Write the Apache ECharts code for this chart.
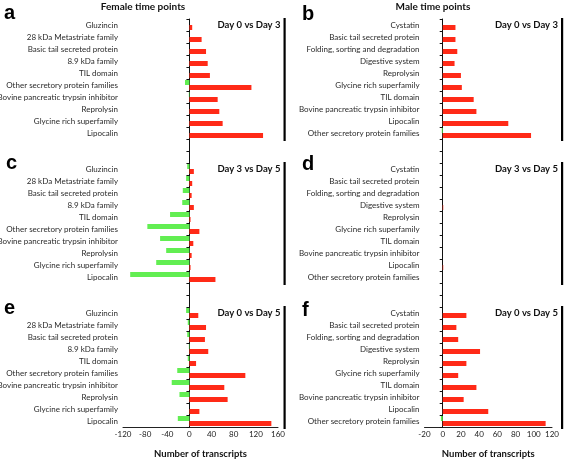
<!DOCTYPE html>
<html><head><meta charset="utf-8">
<script src="https://cdn.jsdelivr.net/npm/echarts@6/dist/echarts.min.js"></script>
<style>html,body{margin:0;padding:0;background:#fff}#c{width:567px;height:461px}</style>
</head><body><div id="c"></div>
<script>
const femaleCategories = ['Gluzincin','28 kDa Metastriate family','Basic tail secreted protein','8.9 kDa family','TIL domain','Other secretory protein families','Bovine pancreatic trypsin inhibitor','Reprolysin','Glycine rich superfamily','Lipocalin'];
const maleCategories = ['Cystatin','Basic tail secreted protein','Folding, sorting and degradation','Digestive system','Reprolysin','Glycine rich superfamily','TIL domain','Bovine pancreatic trypsin inhibitor','Lipocalin','Other secretory protein families'];
const panelTitles = ['Day 0 vs Day 3','Day 3 vs Day 5','Day 0 vs Day 5'];
// Female panels (a, c, e): up-regulated (red) and down-regulated (green)
const aUp   = [5,22,30,33,37,112,51,54,60,133];
const aDown = [0,0,0,0,0,-8,-1,0,0,0];
const cUp   = [8,5,4,8,2,18,7,4,2,47];
const cDown = [-4,-6,-12,-13,-35,-76,-53,-42,-60,-107];
const eUp   = [16,30,28,34,12,101,63,69,18,148];
const eDown = [-6,-3,-4,-1,-3,-22,-32,-18,0,-21];
// Male panels (b, d, f)
const bUp   = [14,14,16,13,20,21,34,37,72,97];
const bDown = [0,0,0,0,0,0,0,0,0,-1];
const dUp   = [0,0,0,0.6,0,0,0,0,0.6,0];
const dDown = [0,0,0,0,0,0,0,0,0,0];
const fUp   = [26,15,17,41,26,17,37,23,50,113];
const fDown = [0,0,0,0,0,0,0,0,0,-2];
const femaleTicks = [-120,-80,-40,0,40,80,120,160];
const maleTicks = [-20,0,20,40,60,80,100,120];

const RED = '#ff2a17', GREEN = '#62ee52';
const FONT = 'Lato';
function cats(list){
  return [...list, ' ', '  ', ...list.map(s=>s+'\u200b'), '   ', '    ', ...list.map(s=>s+'\u200b\u200b')];
}
function col(p1,p2,p3){ return [...p1,'-','-',...p2,'-','-',...p3]; }
const leftCats = cats(femaleCategories), rightCats = cats(maleCategories);

const G = [
  {left:123, width:155, top:19, height:408, outerBoundsMode:'none', containLabel:false},
  {left:424.5, width:127.5, top:19, height:408, outerBoundsMode:'none', containLabel:false}
];
function yAxes(gi, data, ticks){
  const zeroOffset = -(0 - ticks[0]) / (ticks[ticks.length-1] - ticks[0]) * G[gi].width;
  return [
    {type:'category', gridIndex:gi, data:data, inverse:true, position:'left',
     axisLine:{show:false,onZero:false}, axisTick:{show:false},
     axisLabel:{fontSize:8, color:'#2a2a2a', fontFamily:FONT, margin:5, interval:0,
       formatter:v=>v.replace(/\u200b/g,'').trim()}},
    {type:'category', gridIndex:gi, data:data, inverse:true, position:'left', offset:zeroOffset,
     axisLine:{show:true,onZero:false,lineStyle:{color:'#111',width:1}},
     axisTick:{show:true,length:3,interval:0,lineStyle:{color:'#111'}}, axisLabel:{show:false}}
  ];
}
function xAxis(gi, ticks){
  return {type:'value', gridIndex:gi, min:ticks[0], max:ticks[ticks.length-1], interval:ticks[1]-ticks[0], position:'bottom',
    axisLine:{show:true,onZero:false,lineStyle:{color:'#222'}}, axisTick:{show:false}, splitLine:{show:false},
    axisLabel:{fontSize:8, color:'#222', fontFamily:FONT, margin:3},
    name:'Number of transcripts', nameLocation:'middle', nameGap:22,
    nameTextStyle:{fontWeight:'bold', fontSize:9.5, color:'#111', fontFamily:FONT}};
}
function bar(gi, color, data){
  return {type:'bar', xAxisIndex:gi, yAxisIndex:gi*2, data:data, barWidth:5, barGap:'0%',
    itemStyle:{color:color}, silent:true};
}
const g = [];
function txt(x,y,t,size,weight,align){
  g.push({type:'text', x:x, y:y, style:{text:t, font:weight+' '+size+'px '+FONT, fill:'#111', textAlign:align, textVerticalAlign:'middle'}});
}
txt(143,7,'Female time points',10,'bold','center');
txt(433,7,'Male time points',10,'bold','center');
const letters=[['a',4,23],['c',6,173],['e',4,318],['b',302,24],['d',302,174],['f',302,320]];
letters.forEach(l=>g.push({type:'text',x:l[1],y:l[2],style:{text:l[0],font:'bold 20px "Liberation Sans"',fill:'#000',textAlign:'left',textVerticalAlign:'bottom'}}));
const panelTops=[19,163,307];
panelTops.forEach((t,i)=>{
  txt(217.5,t+6,panelTitles[i],9.5,'bold','left');
  txt(495,t+6,panelTitles[i],9.5,'bold','left');
  g.push({type:'rect',shape:{x:283.5,y:t-1,width:2.2,height:123},style:{fill:'#000'}});
  g.push({type:'rect',shape:{x:561,y:t-1,width:2.2,height:123},style:{fill:'#000'}});
});

const chart = echarts.init(document.getElementById('c'), null, {renderer:'canvas'});
chart.setOption({
  animation:false, backgroundColor:'#fff',
  grid:G,
  xAxis:[xAxis(0,femaleTicks), xAxis(1,maleTicks)],
  yAxis:[...yAxes(0,leftCats,femaleTicks), ...yAxes(1,rightCats,maleTicks)],
  series:[
    bar(0, GREEN, col(aDown,cDown,eDown)), bar(0, RED, col(aUp,cUp,eUp)),
    bar(1, GREEN, col(bDown,dDown,fDown)), bar(1, RED, col(bUp,dUp,fUp))
  ],
  graphic:g
});
</script></body></html>
